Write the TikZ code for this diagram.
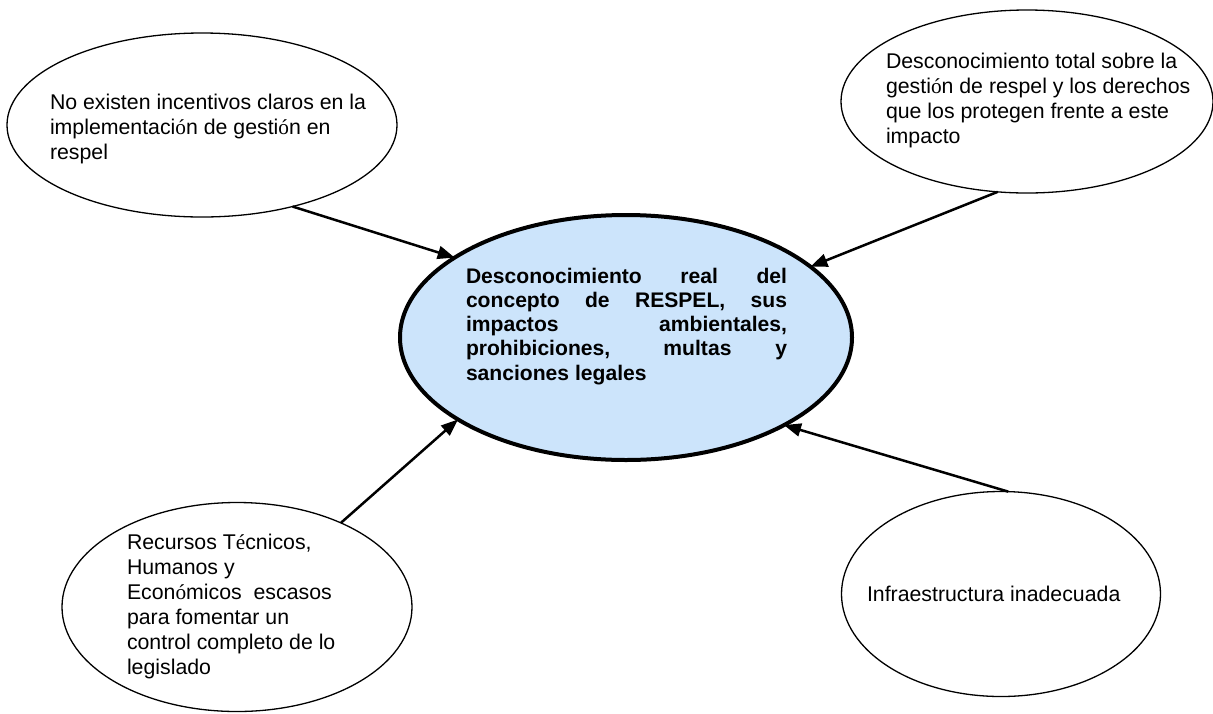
\documentclass[tikz,border=0pt]{standalone}
\usepackage{fontspec}
\setmainfont{Liberation Sans}
\newfontfamily\accf{Liberation Serif}
\usetikzlibrary{shapes.geometric,arrows.meta}
\definecolor{corefill}{HTML}{CCE4FB}
\begin{document}
\begin{tikzpicture}[x=1pt,y=-1pt,
  sub/.style={ellipse,draw,line width=1.3pt,inner sep=0pt,outer sep=0pt},
  core/.style={ellipse,draw,line width=4pt,fill=corefill,inner sep=0pt,outer sep=0pt},
  txt/.style={anchor=north west,inner sep=0pt,outer sep=0pt,align=justify,text width=345pt,
    font=\fontsize{21.3}{25}\selectfont},
  coretxt/.style={anchor=north west,inner sep=0pt,outer sep=0pt,align=justify,text width=321pt,
    font=\fontsize{21.1}{24.3}\selectfont\bfseries},
  arr/.style={line width=2.5pt,-{Triangle[length=17pt,width=13pt]}}
]
\useasboundingbox (0,0) rectangle (1213,713);

% ellipses
\node[sub, minimum width=390pt, minimum height=184pt] (tl) at (202,125) {};
\node[sub, minimum width=372pt, minimum height=183pt] (tr) at (1027,101.5) {};
\node[core, minimum width=452pt, minimum height=245pt] (c) at (626,337.5) {};
\node[sub, minimum width=350pt, minimum height=209pt] (bl) at (237,607) {};
\node[sub, minimum width=319pt, minimum height=205pt] (br) at (1001,594) {};

% texts
\node[txt] (tltext) at (50,93) {\rule{0pt}{16pt}No existen incentivos claros en la\\
implementaci{\accf ó}n de gesti{\accf ó}n en\\
respel};
\node[txt] (trtext) at (886,52) {\rule{0pt}{16pt}Desconocimiento total sobre la\\
gesti{\accf ó}n de respel y los derechos\\
que los protegen frente a este\\
impacto};
\node[txt] (bltext) at (127,533) {\rule{0pt}{16pt}Recursos T{\accf é}cnicos,\\
Humanos y\\
Econ{\accf ó}micos\ \ escasos\\
para fomentar un\\
control completo de lo\\
legislado};
\node[txt] (brtext) at (867,585) {\rule{0pt}{16pt}Infraestructura inadecuada};
\node[coretxt] (ctext) at (466,267) {\rule{0pt}{16pt}\makebox[321pt][s]{Desconocimiento real del}\\
\makebox[321pt][s]{concepto de RESPEL, sus}\\
\makebox[321pt][s]{impactos ambientales,}\\
\makebox[321pt][s]{prohibiciones, multas y}\\
sanciones legales};

% arrows
\draw[arr] (tl.-42.3) -- (c.155.9);
\draw[arr] (tr.-108.7) -- (c.21.6);
\draw[arr] (bl.39.2) -- (c.-154.1);
\draw[arr] (br.86.6) -- (c.-29.1);
\end{tikzpicture}
\end{document}
